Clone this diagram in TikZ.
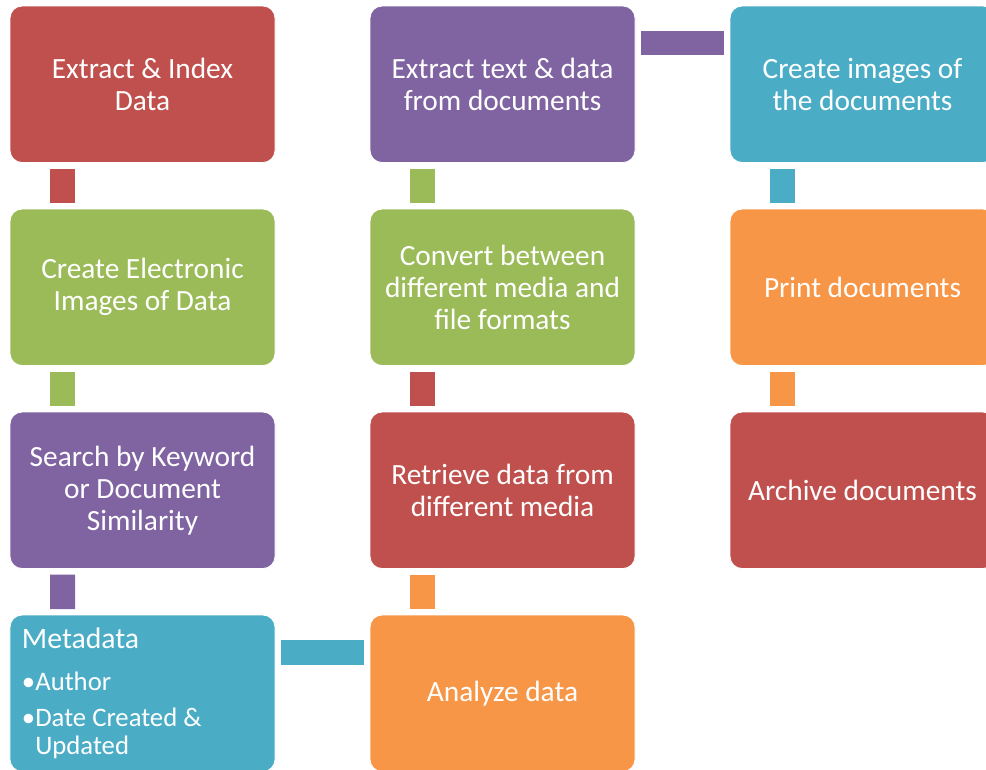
\documentclass[tikz,border=0pt]{standalone}
\usepackage{fontspec}
\setmainfont{Carlito}
\usetikzlibrary{positioning}
\definecolor{accentred}{HTML}{C0504D}
\definecolor{accentgreen}{HTML}{9BBB59}
\definecolor{accentpurple}{HTML}{8064A2}
\definecolor{accentaqua}{HTML}{4BACC6}
\definecolor{accentorange}{HTML}{F79646}

\begin{document}
\begin{tikzpicture}[
    node distance=0.93cm and 1.9cm,
    box/.style={draw=white, line width=0.5pt, rounded corners=0.24cm, minimum width=5.3cm, minimum height=3.13cm, inner sep=0pt, outer sep=0pt, text=white, font=\fontsize{16.7}{18.2}\selectfont, align=center},
    redbox/.style={box, fill=accentred},
    greenbox/.style={box, fill=accentgreen},
    purplebox/.style={box, fill=accentpurple},
    aquabox/.style={box, fill=accentaqua},
    orangebox/.style={box, fill=accentorange},
    vlink/.style={line width=0.5cm},
    hlink/.style={line width=0.49cm},
  ]
  \useasboundingbox (0,0) rectangle (19.72,-15.38);
  % left column, top to bottom
  \node[redbox, anchor=north west] (extract) at (0.2,-0.12) {Extract \& Index\\Data};
  \node[greenbox, below=of extract] (images) {Create Electronic\\Images of Data};
  \node[purplebox, below=of images] (search) {Search by Keyword\\or Document\\Similarity};
  \node[aquabox, below=of search, align=flush left, text width=4.82cm, inner xsep=0.24cm, font=\fontsize{15.2}{16}\selectfont] (meta)
    {{\fontsize{16.9}{19}\selectfont Metadata}\\[8pt]•Author\\[4pt]•Date Created \&\\\phantom{•}Updated};
  % middle column, bottom to top
  \node[orangebox, right=of meta] (analyze) {Analyze data};
  \node[redbox, above=of analyze] (retrieve) {Retrieve data from\\different media};
  \node[greenbox, above=of retrieve] (convert) {Convert between\\different media and\\file formats};
  \node[purplebox, above=of convert] (textdata) {Extract text \& data\\from documents};
  % right column
  \node[aquabox, right=of textdata] (docimages) {Create images of\\the documents};
  \node[orangebox, below=of docimages] (print) {Print documents};
  \node[redbox, below=of print] (archive) {Archive documents};

  \draw[vlink, accentred] ([xshift=1.05cm,yshift=-0.12cm]extract.south west) -- ([xshift=1.05cm,yshift=0.12cm]images.north west);
  \draw[vlink, accentgreen] ([xshift=1.05cm,yshift=-0.12cm]images.south west) -- ([xshift=1.05cm,yshift=0.12cm]search.north west);
  \draw[vlink, accentpurple] ([xshift=1.05cm,yshift=-0.12cm]search.south west) -- ([xshift=1.05cm,yshift=0.12cm]meta.north west);
  \draw[hlink, accentaqua] ([xshift=0.12cm,yshift=-0.75cm]meta.north east) -- ([xshift=-0.12cm,yshift=-0.75cm]analyze.north west);
  \draw[vlink, accentorange] ([xshift=1.05cm,yshift=0.12cm]analyze.north west) -- ([xshift=1.05cm,yshift=-0.12cm]retrieve.south west);
  \draw[vlink, accentred] ([xshift=1.05cm,yshift=0.12cm]retrieve.north west) -- ([xshift=1.05cm,yshift=-0.12cm]convert.south west);
  \draw[vlink, accentgreen] ([xshift=1.05cm,yshift=0.12cm]convert.north west) -- ([xshift=1.05cm,yshift=-0.12cm]textdata.south west);
  \draw[hlink, accentpurple] ([xshift=0.12cm,yshift=-0.74cm]textdata.north east) -- ([xshift=-0.12cm,yshift=-0.74cm]docimages.north west);
  \draw[vlink, accentaqua] ([xshift=1.05cm,yshift=-0.12cm]docimages.south west) -- ([xshift=1.05cm,yshift=0.12cm]print.north west);
  \draw[vlink, accentorange] ([xshift=1.05cm,yshift=-0.12cm]print.south west) -- ([xshift=1.05cm,yshift=0.12cm]archive.north west);
\end{tikzpicture}
\end{document}
